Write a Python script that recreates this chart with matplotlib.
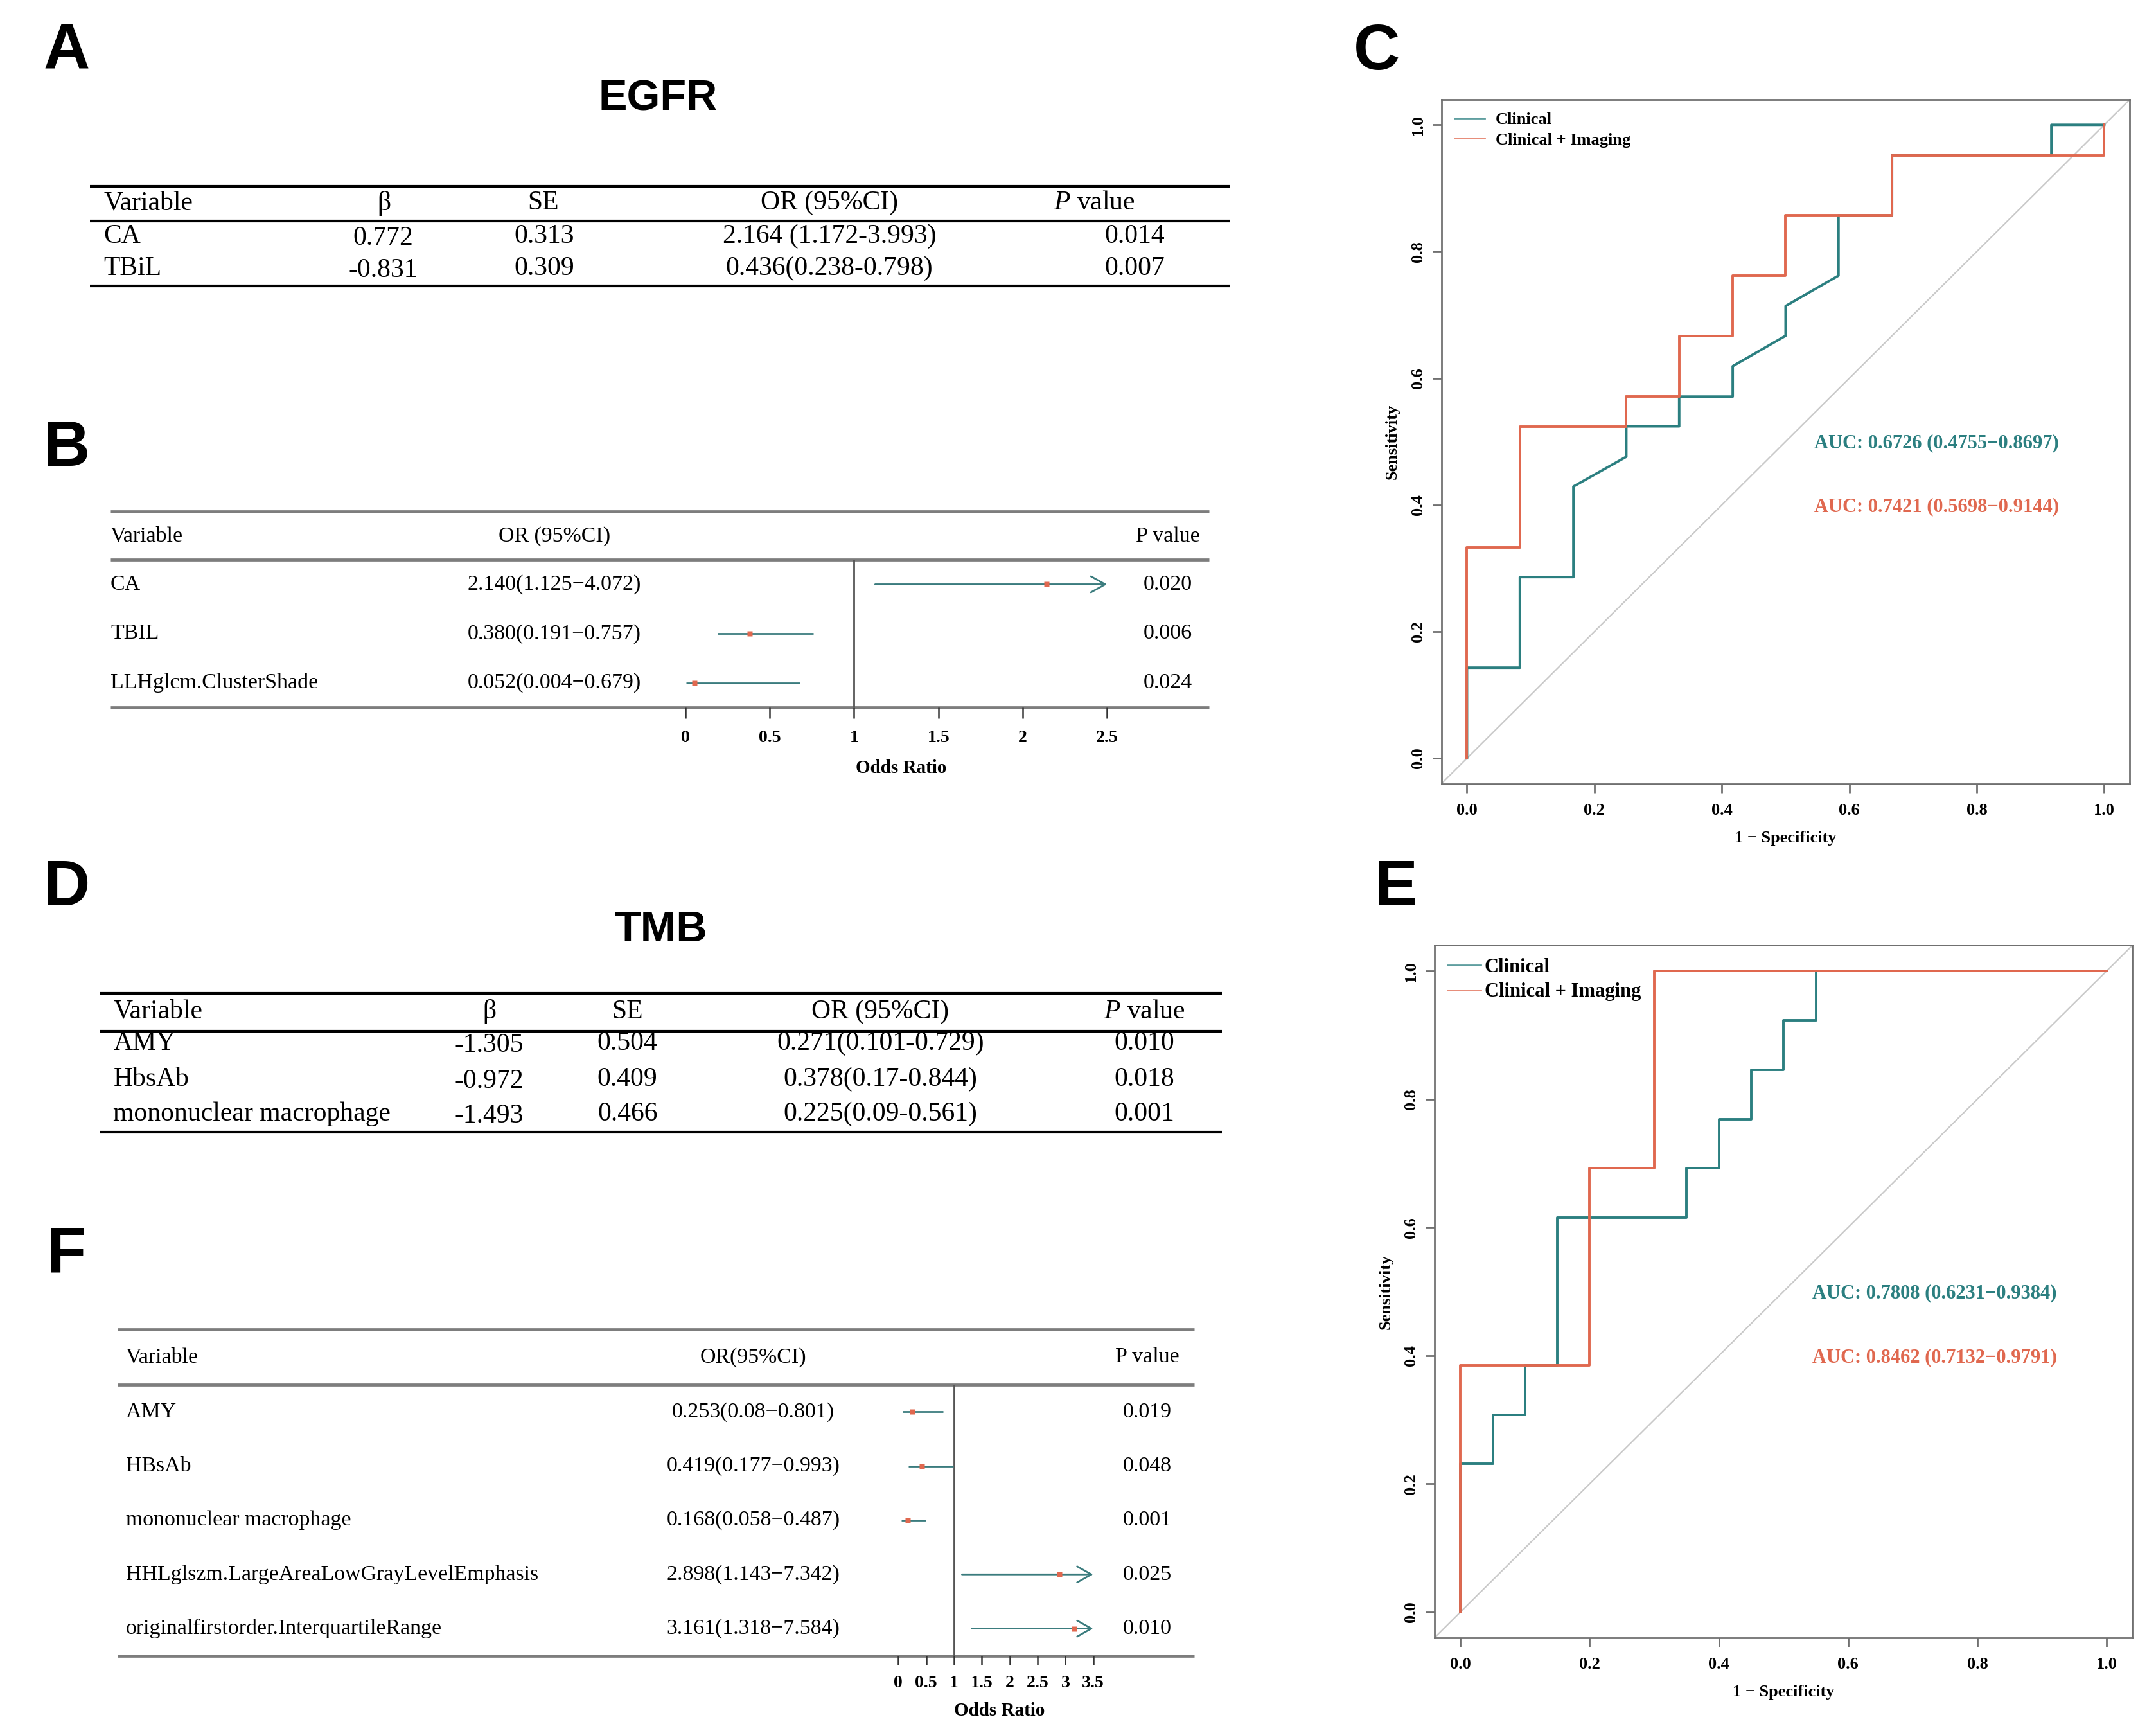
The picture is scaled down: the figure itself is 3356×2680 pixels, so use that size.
import matplotlib
matplotlib.use('Agg')
import matplotlib.pyplot as plt
from matplotlib.transforms import blended_transform_factory

plt.rcParams['font.family'] = ['Liberation Serif', 'DejaVu Serif']
plt.rcParams['mathtext.fontset'] = 'custom'
plt.rcParams['mathtext.rm'] = 'Liberation Serif'
plt.rcParams['mathtext.it'] = 'Liberation Serif:italic'

# ---------------- data ----------------
egfr_vars = ['CA', 'TBiL']
egfr_beta = ['0.772', '-0.831']
egfr_se = ['0.313', '0.309']
egfr_or = ['2.164 (1.172-3.993)', '0.436(0.238-0.798)']
egfr_p = ['0.014', '0.007']

fb_vars = ['CA', 'TBIL', 'LLHglcm.ClusterShade']
fb_or = [2.140, 0.380, 0.052]
fb_lo = [1.125, 0.191, 0.004]
fb_hi = [4.072, 0.757, 0.679]
fb_txt = ['2.140(1.125\u22124.072)', '0.380(0.191\u22120.757)', '0.052(0.004\u22120.679)']
fb_p = ['0.020', '0.006', '0.024']
fb_ticks = [0, 0.5, 1, 1.5, 2, 2.5]

tmb_vars = ['AMY', 'HbsAb', 'mononuclear macrophage']
tmb_beta = ['-1.305', '-0.972', '-1.493']
tmb_se = ['0.504', '0.409', '0.466']
tmb_or = ['0.271(0.101-0.729)', '0.378(0.17-0.844)', '0.225(0.09-0.561)']
tmb_p = ['0.010', '0.018', '0.001']

ff_vars = ['AMY', 'HBsAb', 'mononuclear macrophage',
           'HHLglszm.LargeAreaLowGrayLevelEmphasis', 'originalfirstorder.InterquartileRange']
ff_or = [0.253, 0.419, 0.168, 2.898, 3.161]
ff_lo = [0.08, 0.177, 0.058, 1.143, 1.318]
ff_hi = [0.801, 0.993, 0.487, 7.342, 7.584]
ff_txt = ['0.253(0.08\u22120.801)', '0.419(0.177\u22120.993)', '0.168(0.058\u22120.487)',
          '2.898(1.143\u22127.342)', '3.161(1.318\u22127.584)']
ff_p = ['0.019', '0.048', '0.001', '0.025', '0.010']
ff_ticks = [0, 0.5, 1, 1.5, 2, 2.5, 3, 3.5]

# ROC C (EGFR)
rocC_clin_x = [0, 0, 0.083, 0.083, 0.167, 0.167, 0.25, 0.25, 0.333, 0.333, 0.417, 0.417,
               0.5, 0.5, 0.583, 0.583, 0.667, 0.667, 0.917, 0.917, 1.0]
rocC_clin_y = [0, 0.143, 0.143, 0.286, 0.286, 0.429, 0.476, 0.524, 0.524, 0.571, 0.571, 0.619,
               0.667, 0.714, 0.762, 0.857, 0.857, 0.952, 0.952, 1.0, 1.0]
rocC_img_x = [0, 0, 0.083, 0.083, 0.25, 0.25, 0.333, 0.333, 0.417, 0.417, 0.5, 0.5,
              0.667, 0.667, 1.0, 1.0]
rocC_img_y = [0, 0.333, 0.333, 0.524, 0.524, 0.571, 0.571, 0.667, 0.667, 0.762, 0.762, 0.857,
              0.857, 0.952, 0.952, 1.0]
aucC = ['AUC: 0.6726 (0.4755\u22120.8697)', 'AUC: 0.7421 (0.5698\u22120.9144)']

# ROC E (TMB)
rocE_clin_x = [0, 0, 0.05, 0.05, 0.1, 0.1, 0.15, 0.15, 0.35, 0.35, 0.4, 0.4, 0.45, 0.45,
               0.5, 0.5, 0.55, 0.55, 1.0]
rocE_clin_y = [0, 0.231, 0.231, 0.308, 0.308, 0.385, 0.385, 0.615, 0.615, 0.692, 0.692, 0.769,
               0.769, 0.846, 0.846, 0.923, 0.923, 1.0, 1.0]
rocE_img_x = [0, 0, 0.2, 0.2, 0.3, 0.3, 1.0]
rocE_img_y = [0, 0.385, 0.385, 0.692, 0.692, 1.0, 1.0]
aucE = ['AUC: 0.7808 (0.6231\u22120.9384)', 'AUC: 0.8462 (0.7132\u22120.9791)']

roc_ticks = [0.0, 0.2, 0.4, 0.6, 0.8, 1.0]
legend_labels = ['Clinical', 'Clinical + Imaging']

TEAL = '#2B7F80'
RED = '#E0684F'
FLINE = '#3B7C7E'

# ---------------- figure ----------------
W, H = 1560.0, 1246.0
fig = plt.figure(figsize=(16.78, 13.4), dpi=200)
ax0 = fig.add_axes([0, 0, 1, 1])
ax0.set_xlim(0, W)
ax0.set_ylim(H, 0)
ax0.axis('off')


def rect(l, t, r, b):
    return [l / W, 1 - b / H, (r - l) / W, (b - t) / H]


def hline(y, x0, x1, color='black', lw=1.5):
    ax0.plot([x0, x1], [y, y], color=color, lw=lw, solid_capstyle='butt')


# panel letters and titles
for lab, (x, y) in zip('ABCDEF', [(48, 38), (48, 325), (996, 38), (48, 643), (1010, 643), (48, 908)]):
    ax0.text(x, y, lab, fontsize=36, fontweight='bold', family='Liberation Sans',
             ha='center', va='center')
ax0.text(476, 72, 'EGFR', fontsize=24, fontweight='bold', family='Liberation Sans',
         ha='center', va='center')
ax0.text(478, 673, 'TMB', fontsize=24, fontweight='bold', family='Liberation Sans',
         ha='center', va='center')

headers = ['Variable', '\u03b2', 'SE', 'OR (95%CI)', r'$P$ value']


def table(x0, x1, ylines, yhead, yrows, hx, vx, cols, fs=15):
    for y in ylines:
        hline(y, x0, x1, lw=1.5)
    for j, h in enumerate(headers):
        ax0.text(hx[j], yhead, h, fontsize=fs, ha='left' if j == 0 else 'center', va='center')
    for j, col in enumerate(cols):
        for i, v in enumerate(col):
            ax0.text(vx[j], yrows[i] + (1.5 if j == 1 else 0), v, fontsize=fs,
                     ha='left' if j == 0 else 'center', va='center')


table(65, 890, [135, 160, 207], 147, [171, 194],
      [75, 278, 393, 600, 792], [75, 277, 394, 600, 821],
      [egfr_vars, egfr_beta, egfr_se, egfr_or, egfr_p])
table(72, 884, [719, 746, 819], 732, [755, 781, 806],
      [82, 354, 454, 637, 828], [82, 354, 454, 637, 828],
      [tmb_vars, tmb_beta, tmb_se, tmb_or, tmb_p])


def forest(l, t, r, b, ytop, yhead, ticks, tpx, names, ors, los, his, txts, ps,
           name_x, or_x, p_x, or_head, ticklen, tickpad, ortitle_xy, fs=12.2):
    hline(ytop, l, r, color='#7d7d7d', lw=1.7)
    hline(t, l, r, color='#7d7d7d', lw=1.7)
    hline(b, l, r, color='#7d7d7d', lw=1.7)
    ax0.text(name_x, yhead, 'Variable', fontsize=fs, ha='left', va='center')
    ax0.text(or_x, yhead, or_head, fontsize=fs, ha='center', va='center')
    ax0.text(p_x, yhead, 'P value', fontsize=fs, ha='center', va='center')
    ax0.text(ortitle_xy[0], ortitle_xy[1], 'Odds Ratio', fontsize=10.5, fontweight='bold',
             ha='center', va='center')
    ax = fig.add_axes(rect(l, t, r, b))
    ax.patch.set_alpha(0)
    u = (ticks[-1] - ticks[0]) / (tpx[1] - tpx[0])
    ax.set_xlim(ticks[0] - (tpx[0] - l) * u, ticks[-1] + (r - tpx[1]) * u)
    n = len(names)
    ax.set_ylim(n - 0.5, -0.5)
    for s in ax.spines.values():
        s.set_visible(False)
    ax.set_yticks([])
    ax.set_xticks(ticks)
    ax.set_xticklabels([('%g' % v) for v in ticks], fontweight='bold', fontsize=10)
    ax.tick_params(axis='x', length=ticklen, width=0.9, color='#333333', pad=tickpad)
    ax.axvline(1, color='#555555', lw=1.0, zorder=1)
    tr = blended_transform_factory(ax0.transData, ax.transData)
    for i in range(n):
        lo = max(los[i], ticks[0])
        hi = min(his[i], ticks[-1])
        if his[i] > ticks[-1]:
            ax.annotate('', xy=(hi, i), xytext=(lo, i),
                        arrowprops=dict(arrowstyle='->,head_length=0.8,head_width=0.45',
                                        color=FLINE, lw=1.0, shrinkA=0, shrinkB=0,
                                        mutation_scale=10))
        else:
            ax.plot([lo, hi], [i, i], color=FLINE, lw=1.0, solid_capstyle='butt', zorder=2)
        ax.plot([ors[i]], [i], 's', color=RED, ms=2.6, mec='none', zorder=3)
        ax.text(name_x, i, names[i], transform=tr, fontsize=fs, ha='left', va='center')
        ax.text(or_x, i, txts[i], transform=tr, fontsize=fs, ha='center', va='center')
        ax.text(p_x, i, ps[i], transform=tr, fontsize=fs, ha='center', va='center')
    return ax


forest(80, 405, 875, 512, 370, 388, fb_ticks, (496, 801), fb_vars, fb_or, fb_lo, fb_hi,
       fb_txt, fb_p, 80, 401, 845, 'OR (95%CI)', 6, 6.5, (652, 556))
forest(85, 1002, 864, 1198, 962, 982, ff_ticks, (650, 791), ff_vars, ff_or, ff_lo, ff_hi,
       ff_txt, ff_p, 91, 545, 830, 'OR(95%CI)', 5, 6, (723, 1238))


def roc(l, t, r, b, cx, cy, ix, iy, aucs, legfs, hl, htp, lsp, bap):
    ax = fig.add_axes(rect(l, t, r, b))
    ax.set_xlim(-0.04, 1.04)
    ax.set_ylim(-0.04, 1.04)
    ax.axline((0, 0), slope=1, color='#C9C9C9', lw=0.8, zorder=1)
    ax.plot(cx, cy, color=TEAL, lw=1.4, label=legend_labels[0], zorder=2)
    ax.plot(ix, iy, color=RED, lw=1.4, label=legend_labels[1], zorder=3)
    for s in ax.spines.values():
        s.set_color('#707070')
        s.set_linewidth(1.0)
    ax.set_xticks(roc_ticks)
    ax.set_yticks(roc_ticks)
    ax.set_xticklabels(['%.1f' % v for v in roc_ticks], fontweight='bold', fontsize=9.5)
    ax.set_yticklabels(['%.1f' % v for v in roc_ticks], fontweight='bold', fontsize=9.5,
                       rotation=90, va='center')
    ax.tick_params(axis='both', direction='out', length=5, width=1.0, color='#707070')
    ax.tick_params(axis='x', pad=6)
    ax.tick_params(axis='y', pad=4)
    ax.set_xlabel('1 \u2212 Specificity', fontweight='bold', fontsize=9.5, labelpad=7)
    ax.set_ylabel('Sensitivity', fontweight='bold', fontsize=9.5, labelpad=6)
    ax.text(0.545, 0.497, aucs[0], color=TEAL, fontsize=11, fontweight='bold', va='center')
    ax.text(0.545, 0.397, aucs[1], color=RED, fontsize=11, fontweight='bold', va='center')
    leg = ax.legend(loc='upper left', frameon=False, fontsize=legfs, handlelength=hl,
                    handletextpad=htp, labelspacing=lsp, borderpad=0, borderaxespad=bap,
                    prop={'weight': 'bold', 'size': legfs})
    for line in leg.get_lines():
        line.set_linewidth(1.0)
        line.set_alpha(0.75)
    return ax


roc(1043, 72, 1541, 567, rocC_clin_x, rocC_clin_y, rocC_img_x, rocC_img_y, aucC,
    9.5, 1.8, 0.65, 0.3, 0.75)
roc(1038, 684, 1543, 1185, rocE_clin_x, rocE_clin_y, rocE_img_x, rocE_img_y, aucE,
    11, 1.7, 0.2, 0.3, 0.65)

fig.savefig('out.png', dpi=200)
